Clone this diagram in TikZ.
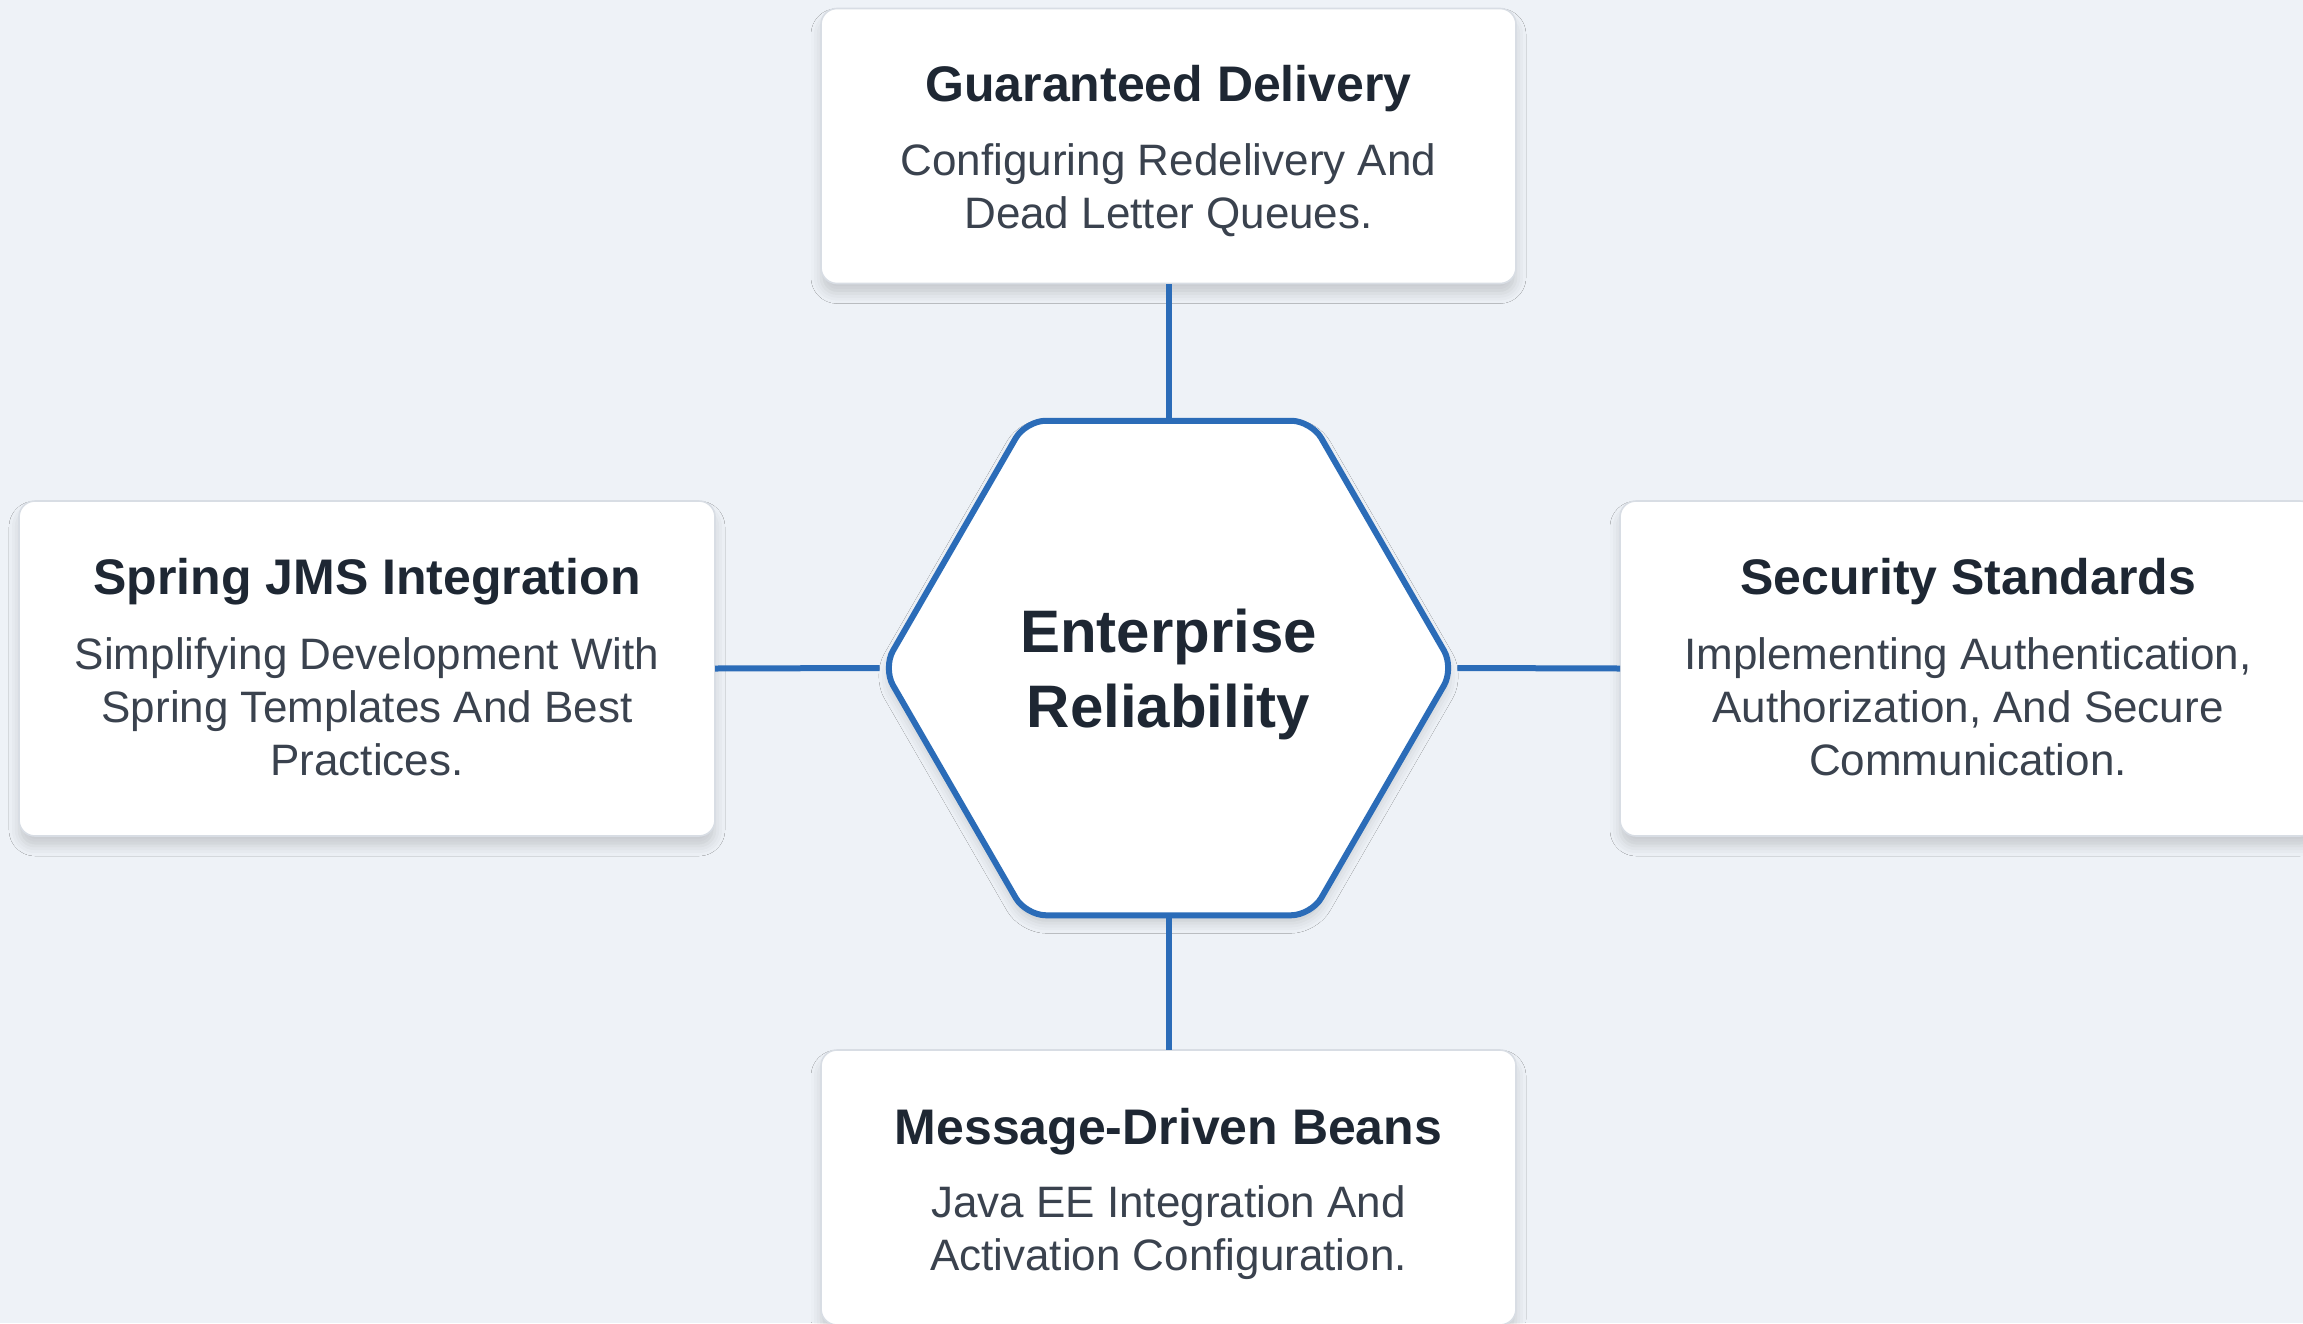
\documentclass[tikz,border=0pt]{standalone}
\usepackage{fontspec}
\setmainfont{Liberation Sans}
\usetikzlibrary{shapes.geometric,shadows.blur}
\definecolor{bg}{RGB}{238,242,247}
\definecolor{hexblue}{RGB}{43,108,184}
\definecolor{boxline}{RGB}{216,221,228}
\definecolor{titlecol}{RGB}{30,39,51}
\definecolor{desccol}{RGB}{58,66,78}
\begin{document}
\begin{tikzpicture}[x=0.5pt,y=-0.5pt,
  card/.style={draw=boxline, line width=0.8pt, fill=white, rounded corners=8pt,
    inner sep=0pt, outer sep=0pt,
    blur shadow={shadow xshift=0pt, shadow yshift=-5pt, shadow blur radius=5pt, shadow opacity=16}},
  hexnode/.style={regular polygon, regular polygon sides=6, minimum size=285.5pt,
    draw=hexblue, line width=3pt, fill=white, rounded corners=10pt, inner sep=0pt,
    blur shadow={shadow xshift=0pt, shadow yshift=-4pt, shadow blur radius=5pt, shadow opacity=16}},
  ttl/.style={anchor=base, font=\bfseries\fontsize{25}{30}\selectfont, text=titlecol, inner sep=0pt},
  dsc/.style={anchor=base, font=\fontsize{22}{26}\selectfont, text=desccol, inner sep=0pt},
  ctr/.style={anchor=base, font=\bfseries\fontsize{30}{36}\selectfont, text=titlecol, inner sep=0pt},
  link/.style={draw=hexblue, line width=3pt}
]
\useasboundingbox (0,0) rectangle (2303,1323);
\clip (0,0) rectangle (2303,1323);
\fill[bg] (0,0) rectangle (2303,1323);

% cards
\node[card, minimum width=347.5pt, minimum height=137.5pt] (top) at (1168.5,146) {};
\node[card, minimum width=348pt, minimum height=167.5pt] (left) at (367,668.5) {};
\node[card, minimum width=348pt, minimum height=167.5pt] (right) at (1968,668.5) {};
\node[card, minimum width=347.5pt, minimum height=137.5pt] (bot) at (1168.5,1187.5) {};

% hexagon
\node[hexnode] (hex) at (1168.5,668) {};

% connectors
\draw[link] (hex.north) -- (top.south);
\draw[link] (hex.south) -- (bot.north);
\draw[link] (hex.west) -- (left.east);
\draw[link] (hex.east) -- (right.west);

% centre text
\node[ctr] (c1) at (1168.5,652) {Enterprise};
\node[ctr] (c2) at (1168.5,727) {Reliability};

% top card text
\node[ttl] (t1) at (1168.5,101) {Guaranteed Delivery};
\node[dsc] (t2) at (1168.5,175.5) {Configuring Redelivery And};
\node[dsc] (t3) at (1168.5,228.5) {Dead Letter Queues.};

% left card text
\node[ttl] (l1) at (367,594.5) {Spring JMS Integration};
\node[dsc] (l2) at (367,669) {Simplifying Development With};
\node[dsc] (l3) at (367,722) {Spring Templates And Best};
\node[dsc] (l4) at (367,775) {Practices.};

% right card text
\node[ttl] (r1) at (1968,594.5) {Security Standards};
\node[dsc] (r2) at (1968,669) {Implementing Authentication,};
\node[dsc] (r3) at (1968,722) {Authorization, And Secure};
\node[dsc] (r4) at (1968,775) {Communication.};

% bottom card text
\node[ttl] (b1) at (1168.5,1144) {Message-Driven Beans};
\node[dsc] (b2) at (1168.5,1217) {Java EE Integration And};
\node[dsc] (b3) at (1168.5,1270) {Activation Configuration.};
\end{tikzpicture}
\end{document}
